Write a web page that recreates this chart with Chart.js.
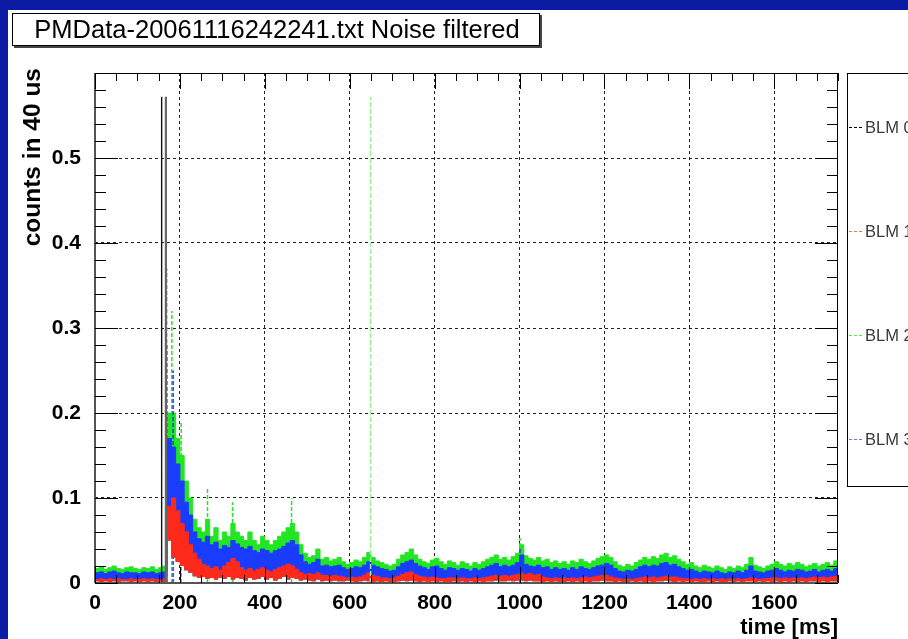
<!DOCTYPE html>
<html><head><meta charset="utf-8">
<script src="https://cdn.jsdelivr.net/npm/chart.js@4.4.1/dist/chart.umd.min.js"></script>
<style>
html,body{margin:0;padding:0;width:908px;height:639px;overflow:hidden;background:#0b1ba3;}
canvas{display:block}
</style></head><body>
<canvas id="c" width="908" height="639"></canvas>
<script>
// ---------- data ----------
const titleText = 'PMData-20061116242241.txt Noise filtered';
const xTitle = 'time [ms]';
const yTitle = 'counts in 40 us';
const seriesNames = ['BLM 0', 'BLM 1', 'BLM 2', 'BLM 3'];
const seriesColors = ['#000000', '#ff2a1a', '#22e622', '#1a3cff'];
const legendColors = ['#000000', '#ff6a5a', '#44ee44', '#5577ff'];
const xTickValues = [0, 200, 400, 600, 800, 1000, 1200, 1400, 1600];
const yTickValues = [0, 0.1, 0.2, 0.3, 0.4, 0.5];

// time bins [ms]
const times = [
  0,10,20,30,40,50,60,70,80,90,
  100,110,120,130,140,150,160,170,180,190,
  200,210,220,230,240,250,260,270,280,290,
  300,310,320,330,340,350,360,370,380,390,
  400,410,420,430,440,450,460,470,480,490,
  500,510,520,530,540,550,560,570,580,590,
  600,610,620,630,640,650,660,670,680,690,
  700,710,720,730,740,750,760,770,780,790,
  800,810,820,830,840,850,860,870,880,890,
  900,910,920,930,940,950,960,970,980,990,
  1000,1010,1020,1030,1040,1050,1060,1070,1080,1090,
  1100,1110,1120,1130,1140,1150,1160,1170,1180,1190,
  1200,1210,1220,1230,1240,1250,1260,1270,1280,1290,
  1300,1310,1320,1330,1340,1350,1360,1370,1380,1390,
  1400,1410,1420,1430,1440,1450,1460,1470,1480,1490,
  1500,1510,1520,1530,1540,1550,1560,1570,1580,1590,
  1600,1610,1620,1630,1640,1650,1660,1670,1680,1690,
  1700,1710,1720,1730,1740,1750
];

// BLM 2 (green) upper envelope
const blm2 = [
  0.017,0.019,0.016,0.018,0.020,0.017,0.016,0.018,0.019,0.017,
  0.016,0.018,0.017,0.019,0.016,0.018,0.020,0.200,0.200,0.170,
  0.150,0.120,0.100,0.075,0.065,0.060,0.075,0.055,0.065,0.050,
  0.060,0.055,0.070,0.060,0.055,0.050,0.060,0.050,0.045,0.055,
  0.050,0.045,0.050,0.055,0.060,0.065,0.070,0.060,0.045,0.035,
  0.030,0.032,0.040,0.028,0.030,0.026,0.028,0.030,0.025,0.022,
  0.024,0.027,0.025,0.030,0.036,0.030,0.026,0.024,0.022,0.020,
  0.022,0.028,0.033,0.036,0.040,0.033,0.028,0.025,0.023,0.027,
  0.029,0.025,0.022,0.026,0.024,0.021,0.025,0.023,0.020,0.024,
  0.022,0.025,0.028,0.030,0.033,0.028,0.030,0.027,0.031,0.035,
  0.045,0.032,0.029,0.027,0.030,0.026,0.028,0.024,0.026,0.023,
  0.025,0.022,0.026,0.024,0.028,0.025,0.023,0.026,0.029,0.031,
  0.033,0.030,0.025,0.021,0.019,0.022,0.020,0.024,0.027,0.030,
  0.028,0.031,0.029,0.033,0.035,0.030,0.032,0.028,0.025,0.022,
  0.024,0.020,0.018,0.021,0.019,0.017,0.020,0.018,0.016,0.019,
  0.017,0.020,0.018,0.022,0.030,0.021,0.019,0.017,0.020,0.022,
  0.025,0.022,0.020,0.023,0.021,0.024,0.022,0.019,0.021,0.023,
  0.020,0.022,0.024,0.021,0.026,0.027
];

// BLM 3 (blue) upper envelope
const blm3 = [
  0.012,0.013,0.011,0.013,0.014,0.012,0.011,0.013,0.012,0.012,
  0.011,0.013,0.012,0.013,0.011,0.012,0.013,0.170,0.160,0.140,
  0.120,0.095,0.080,0.060,0.052,0.048,0.055,0.045,0.048,0.040,
  0.044,0.042,0.050,0.046,0.042,0.040,0.043,0.038,0.036,0.040,
  0.038,0.035,0.038,0.040,0.043,0.047,0.050,0.045,0.033,0.025,
  0.022,0.024,0.028,0.020,0.021,0.019,0.020,0.021,0.018,0.016,
  0.017,0.019,0.018,0.021,0.025,0.021,0.019,0.017,0.016,0.014,
  0.015,0.019,0.023,0.025,0.027,0.023,0.020,0.018,0.016,0.019,
  0.020,0.017,0.015,0.018,0.017,0.015,0.017,0.016,0.014,0.017,
  0.015,0.017,0.019,0.021,0.023,0.019,0.021,0.019,0.021,0.024,
  0.033,0.022,0.020,0.019,0.021,0.018,0.019,0.016,0.018,0.016,
  0.017,0.015,0.018,0.016,0.019,0.017,0.016,0.018,0.020,0.021,
  0.023,0.021,0.017,0.014,0.013,0.015,0.014,0.016,0.019,0.021,
  0.019,0.021,0.020,0.023,0.024,0.021,0.022,0.019,0.017,0.015,
  0.016,0.014,0.012,0.014,0.013,0.012,0.014,0.012,0.011,0.013,
  0.012,0.014,0.012,0.015,0.020,0.014,0.013,0.012,0.014,0.015,
  0.017,0.015,0.013,0.015,0.014,0.016,0.015,0.013,0.014,0.016,
  0.013,0.015,0.016,0.014,0.017,0.018
];

// BLM 1 (red) upper envelope
const blm1 = [
  0.004,0.005,0.004,0.005,0.004,0.005,0.004,0.004,0.005,0.004,
  0.004,0.005,0.004,0.005,0.004,0.004,0.005,0.090,0.100,0.085,
  0.070,0.060,0.045,0.035,0.028,0.022,0.020,0.017,0.019,0.015,
  0.020,0.024,0.029,0.025,0.018,0.015,0.017,0.014,0.016,0.018,
  0.015,0.013,0.016,0.018,0.020,0.022,0.020,0.016,0.012,0.010,
  0.011,0.010,0.012,0.009,0.009,0.008,0.009,0.008,0.007,0.006,
  0.007,0.006,0.007,0.009,0.012,0.009,0.008,0.006,0.006,0.005,
  0.006,0.008,0.010,0.012,0.013,0.010,0.008,0.007,0.006,0.007,
  0.006,0.005,0.005,0.006,0.006,0.005,0.006,0.005,0.005,0.006,
  0.005,0.006,0.007,0.008,0.009,0.008,0.009,0.008,0.009,0.010,
  0.011,0.010,0.011,0.009,0.010,0.007,0.006,0.005,0.006,0.005,
  0.006,0.005,0.006,0.005,0.006,0.007,0.006,0.007,0.008,0.009,
  0.009,0.007,0.006,0.005,0.004,0.005,0.004,0.005,0.006,0.007,
  0.006,0.007,0.006,0.007,0.008,0.007,0.007,0.006,0.005,0.005,
  0.004,0.005,0.004,0.005,0.004,0.005,0.004,0.005,0.004,0.005,
  0.004,0.005,0.004,0.005,0.006,0.005,0.004,0.005,0.005,0.006,
  0.006,0.005,0.006,0.005,0.006,0.005,0.006,0.005,0.006,0.007,
  0.006,0.007,0.006,0.007,0.008,0.008
];

// lower envelope of all channels (white gap above zero)
const floorLevel = [
  0.002,0.001,0.002,0.001,0.002,0.001,0.002,0.002,0.001,0.002,
  0.001,0.002,0.001,0.002,0.001,0.002,0.001,0.050,0.030,0.025,
  0.020,0.015,0.012,0.008,0.006,0.007,0.005,0.006,0.004,0.006,
  0.005,0.007,0.004,0.006,0.005,0.003,0.006,0.004,0.005,0.007,
  0.004,0.006,0.003,0.005,0.007,0.004,0.006,0.005,0.003,0.004,
  0.003,0.002,0.004,0.002,0.003,0.002,0.003,0.002,0.002,0.003,
  0.002,0.001,0.002,0.003,0.002,0.001,0.002,0.001,0.002,0.001,
  0.001,0.002,0.003,0.002,0.003,0.002,0.001,0.002,0.001,0.002,
  0.001,0.002,0.001,0.001,0.002,0.001,0.002,0.001,0.002,0.001,
  0.002,0.001,0.002,0.002,0.003,0.002,0.002,0.003,0.002,0.003,
  0.003,0.002,0.003,0.002,0.002,0.001,0.002,0.001,0.002,0.001,
  0.001,0.002,0.001,0.002,0.001,0.002,0.001,0.002,0.002,0.003,
  0.002,0.002,0.001,0.002,0.001,0.001,0.002,0.001,0.002,0.001,
  0.002,0.001,0.002,0.002,0.003,0.002,0.001,0.002,0.001,0.002,
  0.001,0.002,0.001,0.001,0.002,0.001,0.002,0.001,0.001,0.002,
  0.001,0.002,0.001,0.002,0.002,0.001,0.002,0.001,0.002,0.001,
  0.002,0.001,0.002,0.001,0.002,0.001,0.002,0.001,0.002,0.002,
  0.001,0.002,0.001,0.002,0.002,0.002
];

// isolated spikes (time [ms], height)
const blm0SpikeTimes = [157, 167];
const blm0SpikeHeights = [0.572, 0.572];
const blm2SpikeTimes = [169, 181, 203, 265, 324, 463, 1001];
const blm2SpikeHeights = [0.37, 0.32, 0.19, 0.113, 0.095, 0.10, 0.053];
const blm2GlitchTimes = [649];
const blm2GlitchHeights = [0.572];
const blm3SpikeTimes = [169, 184, 1001];
const blm3SpikeHeights = [0.28, 0.25, 0.04];

// ---------- helpers ----------
function band(vals) { return times.map((t, i) => ({ x: t, y: vals[i] })); }
function spikes(ts, hs) {
  const out = [];
  ts.forEach((t, i) => { out.push({ x: t, y: 0 }, { x: t, y: hs[i] }, { x: t, y: null }); });
  return out;
}

const FONT = "'Liberation Sans', Arial, Helvetica, sans-serif";

const decor = {
  id: 'decor',
  beforeDraw(chart) {
    const ctx = chart.ctx;
    ctx.save();
    ctx.fillStyle = '#0b1ba3';
    ctx.fillRect(0, 0, 908, 639);
    ctx.fillStyle = '#ffffff';
    ctx.fillRect(8, 10, 900, 629);
    ctx.restore();
  },
  afterDraw(chart) {
    const ctx = chart.ctx;
    const a = chart.chartArea;
    const xs = chart.scales.x, ys = chart.scales.y;
    ctx.save();
    // frame
    ctx.strokeStyle = '#000';
    ctx.lineWidth = 1;
    ctx.strokeRect(a.left + 0.5, a.top + 0.5, a.right - a.left - 1, a.bottom - a.top - 1);
    ctx.strokeStyle = '#555';
    ctx.lineWidth = 2;
    ctx.beginPath(); ctx.moveTo(a.left, a.top); ctx.lineTo(a.left, a.bottom); ctx.stroke();
    ctx.beginPath(); ctx.moveTo(a.left, a.bottom); ctx.lineTo(a.right, a.bottom); ctx.stroke();
    // inward ticks
    ctx.strokeStyle = '#000';
    ctx.lineWidth = 1;
    ctx.beginPath();
    for (let v = 0; v <= 1750; v += 50) {
      const px = Math.round(xs.getPixelForValue(v)) + 0.5;
      const len = (v % 200 === 0) ? 16 : 8;
      ctx.moveTo(px, a.bottom); ctx.lineTo(px, a.bottom - len);
      ctx.moveTo(px, a.top); ctx.lineTo(px, a.top + len);
    }
    for (let k = 0; k <= 30; k++) {
      const v = k * 0.02;
      const py = Math.round(ys.getPixelForValue(v)) + 0.5;
      const len = (k % 5 === 0) ? 23 : 11;
      ctx.moveTo(a.left, py); ctx.lineTo(a.left + len, py);
      ctx.moveTo(a.right, py); ctx.lineTo(a.right - len, py);
    }
    ctx.stroke();

    // title box
    ctx.fillStyle = '#fff';
    ctx.fillRect(12, 13, 528, 33);
    ctx.fillStyle = '#444';
    ctx.fillRect(14, 46, 528, 2);
    ctx.fillRect(540, 15, 2, 33);
    ctx.strokeStyle = '#000';
    ctx.lineWidth = 1;
    ctx.strokeRect(12.5, 13.5, 527, 32);
    ctx.fillStyle = '#000';
    ctx.font = '25.5px ' + FONT;
    ctx.textAlign = 'center';
    ctx.textBaseline = 'middle';
    ctx.fillText(titleText, 277, 31);

    // axis titles
    ctx.font = 'bold 22px ' + FONT;
    ctx.textAlign = 'right';
    ctx.textBaseline = 'middle';
    ctx.fillText(xTitle, 838, 628);
    ctx.save();
    ctx.font = 'bold 24.5px ' + FONT;
    ctx.translate(33, 68);
    ctx.rotate(-Math.PI / 2);
    ctx.textAlign = 'right';
    ctx.fillText(yTitle, 0, 0);
    ctx.restore();

    // legend
    ctx.fillStyle = '#fff';
    ctx.fillRect(847, 73, 80, 414);
    ctx.strokeStyle = '#000';
    ctx.lineWidth = 1;
    ctx.strokeRect(847.5, 73.5, 80, 413);
    ctx.font = '16.5px ' + FONT;
    ctx.textAlign = 'left';
    ctx.textBaseline = 'middle';
    seriesNames.forEach((name, i) => {
      const y = 127 + i * 104;
      ctx.strokeStyle = legendColors[i];
      ctx.lineWidth = 1;
      ctx.setLineDash([3, 2]);
      ctx.beginPath(); ctx.moveTo(849, y + 0.5); ctx.lineTo(863, y + 0.5); ctx.stroke();
      ctx.setLineDash([]);
      ctx.fillStyle = '#3a3a3a';
      ctx.fillText(name, 865, y + 1);
    });
    ctx.restore();
  }
};

const bandCommon = { stepped: true, pointRadius: 0, borderWidth: 1, fill: 0, tension: 0, spanGaps: false };
const spikeCommon = { pointRadius: 0, fill: false, tension: 0, spanGaps: false, backgroundColor: 'transparent' };

new Chart(document.getElementById('c'), {
  type: 'line',
  data: {
    datasets: [
      { label: 'floor', data: band(floorLevel), stepped: true, pointRadius: 0, borderWidth: 0, borderColor: 'transparent', fill: false, order: 20 },
      Object.assign({ label: seriesNames[2], data: band(blm2), borderColor: seriesColors[2], backgroundColor: seriesColors[2], order: 10 }, bandCommon),
      Object.assign({ label: seriesNames[2] + ' spikes', data: spikes(blm2SpikeTimes, blm2SpikeHeights), borderColor: seriesColors[2], borderWidth: 1.5, borderDash: [4, 2], order: 9 }, spikeCommon),
      Object.assign({ label: seriesNames[3], data: band(blm3), borderColor: seriesColors[3], backgroundColor: seriesColors[3], order: 8 }, bandCommon),
      Object.assign({ label: seriesNames[3] + ' spikes', data: spikes(blm3SpikeTimes, blm3SpikeHeights), borderColor: seriesColors[3], borderWidth: 1.5, borderDash: [4, 2], order: 7 }, spikeCommon),
      Object.assign({ label: seriesNames[1], data: band(blm1), borderColor: seriesColors[1], backgroundColor: seriesColors[1], order: 6 }, bandCommon),
      Object.assign({ label: seriesNames[2] + ' glitch', data: spikes(blm2GlitchTimes, blm2GlitchHeights), borderColor: '#9aef9a', borderWidth: 1.5, borderDash: [5, 2], order: 5 }, spikeCommon),
      Object.assign({ label: seriesNames[0], data: spikes(blm0SpikeTimes, blm0SpikeHeights), borderColor: '#111', borderWidth: 1.4, order: 4,
        segment: { borderColor: c => (c.p0DataIndex >= 3 ? '#666' : '#111'), borderWidth: c => (c.p0DataIndex >= 3 ? 2.2 : 1.4) } }, spikeCommon)
    ]
  },
  options: {
    responsive: false,
    animation: false,
    devicePixelRatio: 1,
    layout: { padding: { top: 73, right: 70, left: 0, bottom: 0 } },
    plugins: { legend: { display: false }, title: { display: false }, tooltip: { enabled: false } },
    scales: {
      x: {
        type: 'linear', min: 0, max: 1750,
        afterFit(s) { s.height = 56; },
        afterBuildTicks(s) { s.ticks = xTickValues.map(v => ({ value: v })); },
        ticks: { autoSkip: false, maxRotation: 0, padding: 8, color: '#000', font: { family: FONT, size: 21, weight: 'bold' }, callback: v => String(v) },
        grid: { color: '#222', lineWidth: 1, drawTicks: false },
        border: { display: false, dash: [3, 3] }
      },
      y: {
        type: 'linear', min: 0, max: 0.6,
        afterFit(s) { s.width = 95; },
        afterBuildTicks(s) { s.ticks = yTickValues.map(v => ({ value: v })); },
        ticks: { autoSkip: false, padding: 14, color: '#000', font: { family: FONT, size: 21, weight: 'bold' }, callback: v => (v === 0 ? '0' : v.toFixed(1)) },
        grid: { color: '#222', lineWidth: 1, drawTicks: false },
        border: { display: false, dash: [3, 3] }
      }
    }
  },
  plugins: [decor]
});
</script>
</body></html>
